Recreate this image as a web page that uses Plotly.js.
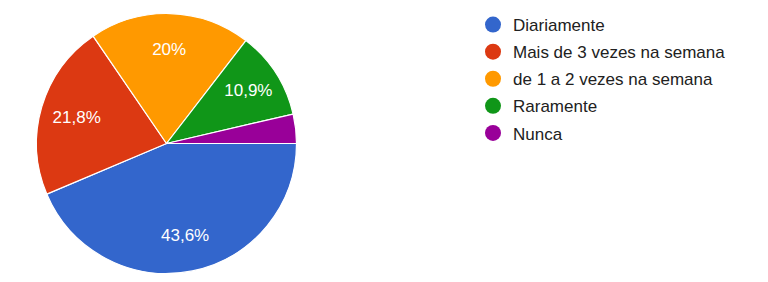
<!DOCTYPE html>
<html>
<head>
<meta charset="utf-8">
<script src="https://cdn.plot.ly/plotly-3.0.1.min.js"></script>
<style>html,body{margin:0;padding:0;background:#fff;}#chart{width:768px;height:282px;}</style>
</head>
<body>
<div id="chart"></div>
<script>
const categories = ["Diariamente", "Mais de 3 vezes na semana", "de 1 a 2 vezes na semana", "Raramente", "Nunca"];
const counts = [24, 12, 11, 6, 2];
const pctLabels = ["43,6%", "21,8%", "20%", "10,9%", ""];
const colors = ["#3366cc", "#dc3912", "#ff9900", "#109618", "#990099"];

const W = 768, H = 282;
const cx = 166.5, cy = 143.5, r = 130;
const FONT = "Arial, 'Liberation Sans', sans-serif";
const dom = {x: [(cx - r) / W, (cx + r) / W], y: [(H - cy - r) / H, (H - cy + r) / H]};

const pie = {
  type: "pie",
  labels: categories,
  values: counts,
  textinfo: "none",
  sort: false,
  direction: "clockwise",
  rotation: 90,
  marker: {colors: colors, line: {color: "#ffffff", width: 1.2}},
  showlegend: false,
  hoverinfo: "label+percent",
  domain: dom
};

// transparent ring overlay, only to carry the percentage labels further out
const labelPie = {
  type: "pie",
  labels: categories,
  values: counts,
  text: pctLabels,
  textinfo: "text",
  textposition: "inside",
  insidetextorientation: "horizontal",
  insidetextfont: {color: "#ffffff", size: 17, family: FONT},
  sort: false,
  direction: "clockwise",
  rotation: 90,
  hole: 0.44,
  marker: {colors: colors.map(() => "rgba(0,0,0,0)"), line: {width: 0}},
  showlegend: false,
  hoverinfo: "skip",
  domain: dom
};

const legendTraces = categories.map((c, i) => ({
  type: "scatter",
  mode: "markers",
  x: [null], y: [null],
  name: c,
  legendgroup: "g" + i,
  marker: {symbol: "circle", size: 17, color: colors[i]},
  showlegend: true,
  hoverinfo: "skip"
}));

const layout = {
  width: W, height: H,
  margin: {l: 0, r: 0, t: 0, b: 0},
  paper_bgcolor: "#ffffff",
  plot_bgcolor: "#ffffff",
  xaxis: {visible: false},
  yaxis: {visible: false},
  showlegend: true,
  legend: {
    x: 473 / W, y: 1 - 7 / H, xanchor: "left", yanchor: "top",
    font: {family: FONT, size: 17, color: "#212121"},
    tracegroupgap: 2,
    itemsizing: "trace",
    itemclick: false
  },
  font: {family: FONT}
};

Plotly.newPlot("chart", [pie, labelPie].concat(legendTraces), layout, {staticPlot: true, displayModeBar: false});
</script>
</body>
</html>
